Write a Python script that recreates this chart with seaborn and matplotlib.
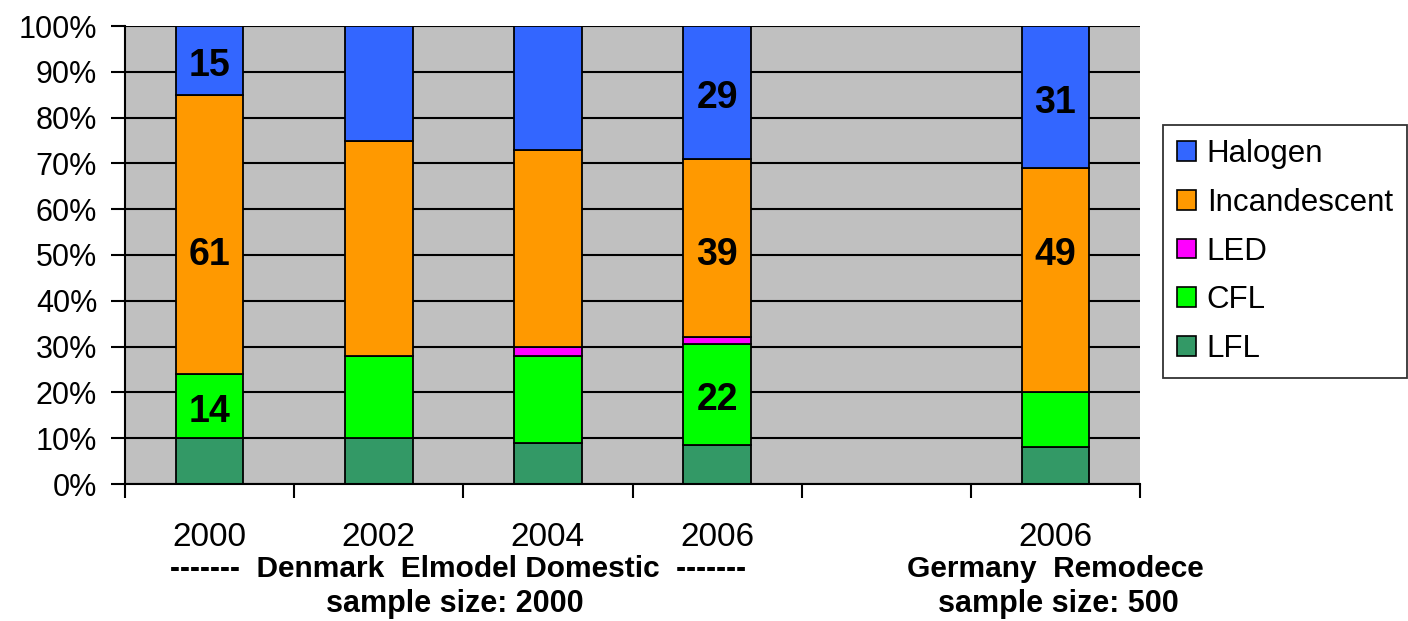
import matplotlib
matplotlib.use("Agg")
import matplotlib.pyplot as plt
from matplotlib.patches import Patch
import matplotlib.transforms as mtransforms
import numpy as np
import seaborn as sns

# Survey columns (position 4 is left empty as a spacer between studies)
positions = [0, 1, 2, 3, 5]
years = ["2000", "2002", "2004", "2006", "2006"]

# Share of lamps by type, percent (stacked bottom -> top)
lfl = [10, 10, 9, 8.5, 8]
cfl = [14, 18, 19, 22, 12]
led = [0, 0, 2, 1.5, 0]
incandescent = [61, 47, 43, 39, 49]
halogen = [15, 25, 27, 29, 31]

# Which segments carry a value label
show_cfl = [True, False, False, True, False]
show_inc = [True, False, False, True, True]
show_hal = [True, False, False, True, True]

layers = [
    ("LFL", lfl, "#339966", None),
    ("CFL", cfl, "#00FF00", show_cfl),
    ("LED", led, "#FF00FF", None),
    ("Incandescent", incandescent, "#FF9900", show_inc),
    ("Halogen", halogen, "#3366FF", show_hal),
]

sns.set_style("ticks")
plt.rcParams["font.family"] = ["Liberation Sans", "DejaVu Sans"]
plt.rcParams["text.color"] = "black"
plt.rcParams["xtick.color"] = "black"
plt.rcParams["ytick.color"] = "black"

fig = plt.figure(figsize=(14.08, 6.21), dpi=100)
ax = fig.add_axes([125 / 1408, 1 - 484 / 621, (1140 - 125) / 1408, (484 - 26) / 621])
ax.set_facecolor("#C0C0C0")

label_kw = dict(ha="center", va="center", fontsize=27, fontweight="bold",
                color="black", zorder=5)
nudge = mtransforms.offset_copy(ax.transData, fig=fig, x=0, y=-4, units="points")

bottom = np.zeros(len(positions))
for name, vals, color, show in layers:
    sns.barplot(x=positions, y=vals, bottom=bottom, native_scale=True,
                width=0.4, color=color, saturation=1, edgecolor="black",
                linewidth=1.3, errorbar=None, ax=ax, zorder=3)
    if show is not None:
        for p, b, v, s in zip(positions, bottom, vals, show):
            if not s:
                continue
            if name == "Incandescent":
                # incandescent values sit on the 50% line
                ax.text(p, 50, f"{v:g}", **label_kw)
            else:
                ax.text(p, b + v / 2, f"{v:g}", transform=nudge, **label_kw)
    bottom = bottom + np.array(vals, dtype=float)

ax.set_xlim(-0.5, 5.5)
ax.set_ylim(0, 100)
ax.set_yticks(range(0, 101, 10))
ax.set_yticklabels([f"{v}%" for v in range(0, 101, 10)], fontsize=22)
ax.set_xticks(np.arange(-0.5, 5.6, 1.0))
ax.set_xticklabels([])
ax.set_xlabel("")
ax.set_ylabel("")
ax.tick_params(axis="both", direction="out", length=10, width=1.5,
               color="black", pad=10)
ax.yaxis.grid(True, color="black", linewidth=1.5, zorder=0)
ax.set_axisbelow(True)
for side in ["top", "right"]:
    ax.spines[side].set_visible(False)
for side in ["left", "bottom"]:
    ax.spines[side].set_color("black")
    ax.spines[side].set_linewidth(1.5)
    ax.spines[side].set_zorder(4)

# Category labels and study captions below the axis
tr = ax.get_xaxis_transform()
for p, y in zip(positions, years):
    ax.text(p, -0.116, y, transform=tr, ha="center", va="center", fontsize=24)
ax.text(1.47, -0.186, "-------  Denmark  Elmodel Domestic  -------", transform=tr,
        ha="center", va="center", fontsize=21.5, fontweight="bold")
ax.text(1.45, -0.262, "sample size: 2000", transform=tr,
        ha="center", va="center", fontsize=22, fontweight="bold")
ax.text(5, -0.186, "Germany  Remodece", transform=tr,
        ha="center", va="center", fontsize=21.5, fontweight="bold")
ax.text(5.02, -0.262, "sample size: 500", transform=tr,
        ha="center", va="center", fontsize=22, fontweight="bold")

handles = [Patch(facecolor=c, edgecolor="black", linewidth=1.2, label=n)
           for n, _, c, _ in reversed(layers)]
leg = fig.legend(handles=handles, loc="upper left",
                 bbox_to_anchor=(1163 / 1408, 1 - 125 / 621),
                 fontsize=22.5, frameon=True, fancybox=False, edgecolor="black",
                 handlelength=0.6, handleheight=0.6, handletextpad=0.35,
                 labelspacing=0.6, borderpad=0.45, borderaxespad=0)
leg.get_frame().set_linewidth(1.3)

fig.savefig("out.png", dpi=100, facecolor="white")
